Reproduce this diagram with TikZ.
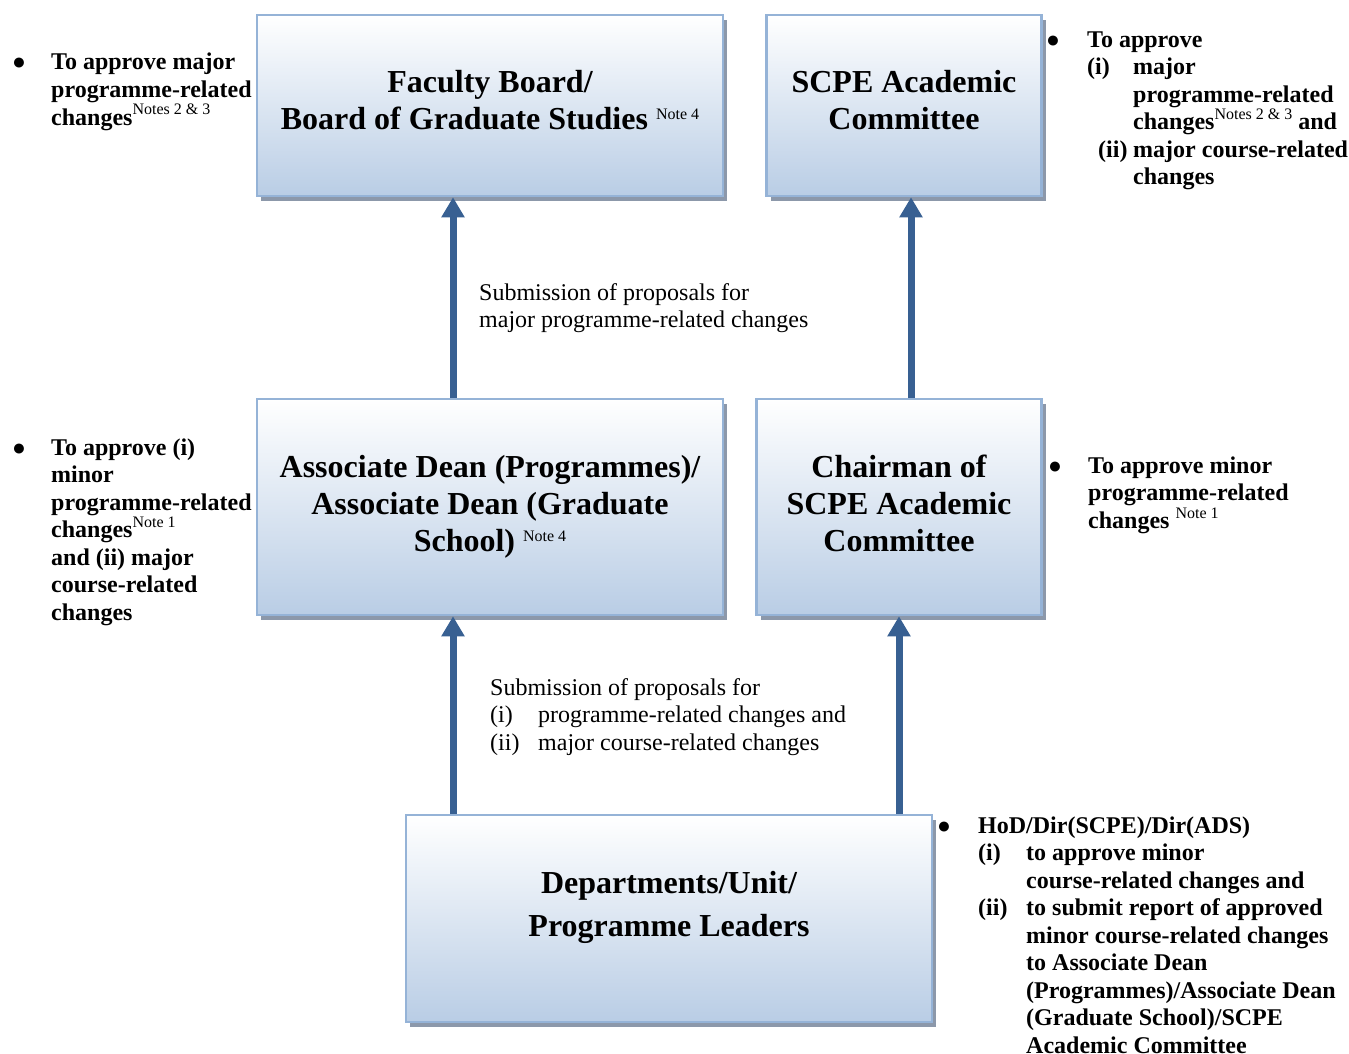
\documentclass[tikz,border=0pt]{standalone}
\usepackage{fontspec}
\setmainfont{Liberation Serif}
\usepackage{tikz}
\usetikzlibrary{positioning,calc,shadows,arrows.meta}
\definecolor{boxline}{RGB}{149,179,215}
\definecolor{boxfill}{RGB}{185,205,229}
\definecolor{boxshadow}{RGB}{140,152,170}
\definecolor{flowblue}{RGB}{56,96,146}
\newcommand{\notesup}[1]{\raisebox{10pt}{\fontsize{16}{16}\selectfont\mdseries #1}}
\newcommand{\sidebullet}[1]{\makebox[#1][l]{\fontsize{23}{23}\selectfont ●}}

\begin{document}
\begin{tikzpicture}[x=1pt,y=-1pt,
orgbox/.style={rectangle, draw=boxline, line width=2.5pt, top color=white, bottom color=boxfill, inner sep=0pt,
  drop shadow={shadow xshift=4pt, shadow yshift=-5pt, fill=boxshadow, opacity=1}},
boxtitle/.style={font=\fontsize{32}{37}\selectfont\bfseries, align=center, inner sep=0pt},
sidetext/.style={font=\fontsize{24}{27.5}\selectfont\bfseries, align=left, inner sep=0pt, anchor=base west},
flowtext/.style={font=\fontsize{24}{27.5}\selectfont, align=left, inner sep=0pt, anchor=base west},
flow/.style={-{Triangle[width=22pt,length=20pt]}, line width=7pt, draw=flowblue},
]
\useasboundingbox (0,0) rectangle (1349,1054);

%Nodes
\node[orgbox, minimum width=466pt, minimum height=181pt] (faculty) at (490,105.5) {};
\node[orgbox, minimum width=275pt, minimum height=181pt] (scpe)    [right=41pt of faculty] {};
\node[orgbox, minimum width=466pt, minimum height=216pt] (assoc)   at (490,507) {};
\node[orgbox, minimum width=285pt, minimum height=216pt] (chair)   [right=31pt of assoc] {};
\node[orgbox, minimum width=526pt, minimum height=207pt] (dept)    at (669,918.5) {};

\node[boxtitle] (facultytitle) at ([yshift=5pt]faculty) {Faculty Board/\\Board of Graduate Studies \notesup{Note 4}};
\node[boxtitle] (scpetitle)    at ([yshift=5pt]scpe)    {SCPE Academic\\Committee};
\node[boxtitle] (assoctitle)   at (assoc)               {Associate Dean (Programmes)/\\Associate Dean (Graduate\\School) \notesup{Note 4}};
\node[boxtitle] (chairtitle)   at ([yshift=4pt]chair)   {Chairman of\\SCPE Academic\\Committee};
\node[boxtitle, font=\fontsize{32}{43}\selectfont\bfseries] (depttitle) at ([yshift=11pt]dept) {Departments/Unit/\\Programme Leaders};

%Side notes (anchored on the baseline of the last line)
\node[sidetext] (facultynote) at (12,125) {\sidebullet{39pt}To approve major\\
  \hspace*{39pt}programme-related\\
  \hspace*{39pt}changes\notesup{Notes 2 \& 3}};
\node[sidetext] (scpenote) at (1046,184.5) {\sidebullet{41pt}To approve\\
  \hspace*{41pt}\makebox[46pt][l]{(i)}major\\
  \hspace*{87pt}programme-related\\
  \hspace*{87pt}changes\notesup{Notes 2 \& 3} and\\
  \hspace*{52pt}\makebox[35pt][l]{(ii)}major course-related\\
  \hspace*{87pt}changes};
\node[sidetext] (assocnote) at (12,620) {\sidebullet{39pt}To approve (i)\\
  \hspace*{39pt}minor\\
  \hspace*{39pt}programme-related\\
  \hspace*{39pt}changes\notesup{Note 1}\\
  \hspace*{39pt}and (ii) major\\
  \hspace*{39pt}course-related\\
  \hspace*{39pt}changes};
\node[sidetext] (chairnote) at (1048,528) {\sidebullet{40pt}To approve minor\\
  \hspace*{40pt}programme-related\\
  \hspace*{40pt}changes \notesup{Note 1}};
\node[sidetext] (deptnote) at (937,1053) {\sidebullet{41pt}HoD/Dir(SCPE)/Dir(ADS)\\
  \hspace*{41pt}\makebox[48pt][l]{(i)}to approve minor\\
  \hspace*{89pt}course-related changes and\\
  \hspace*{41pt}\makebox[48pt][l]{(ii)}to submit report of approved\\
  \hspace*{89pt}minor course-related changes\\
  \hspace*{89pt}to Associate Dean\\
  \hspace*{89pt}(Programmes)/Associate Dean\\
  \hspace*{89pt}(Graduate School)/SCPE\\
  \hspace*{89pt}Academic Committee};

%Lines
\coordinate (leftlane)  at (453,0);
\coordinate (scpelane)  at (911,0);
\draw[flow] (assoc.north -| leftlane) -- (faculty.south -| leftlane);
\draw[flow] (chair.north -| scpelane) -- (scpe.south -| scpelane);
\draw[flow] (dept.north -| leftlane) -- (assoc.south -| leftlane);
\draw[flow] (dept.north -| chair.south) -- (chair.south);

\node[flowtext] (majorlabel) at (479,327.5) {Submission of proposals for\\major programme-related changes};
\node[flowtext] (minorlabel) at (490,750) {Submission of proposals for\\
  \makebox[48pt][l]{(i)}programme-related changes and\\
  \makebox[48pt][l]{(ii)}major course-related changes};
\end{tikzpicture}
\end{document}
